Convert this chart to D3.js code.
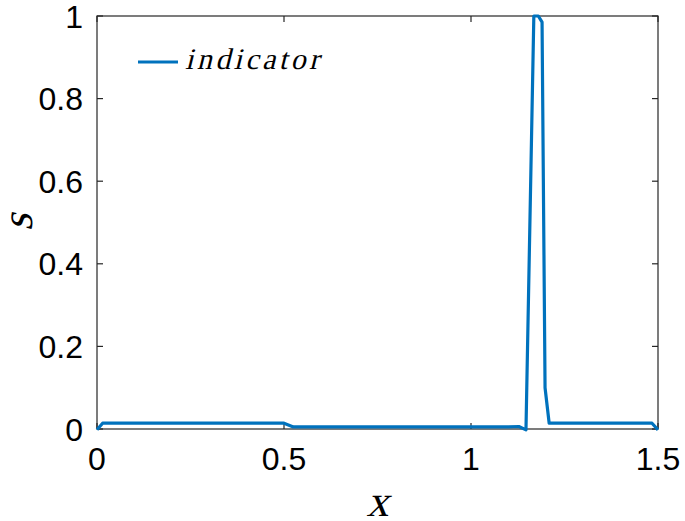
<!DOCTYPE html>
<html>
<head>
<meta charset="utf-8">
<script src="https://cdn.jsdelivr.net/npm/d3@7"></script>
<style>
  body { margin: 0; background: #fff; }
  svg { display: block; }
</style>
</head>
<body>
<svg id="chart" width="685" height="521" viewBox="0 0 685 521"></svg>
<script>
// indicator curve
const xValues = [0, 0.015, 0.5, 0.525, 1.1, 1.128, 1.147, 1.168, 1.18, 1.19, 1.198, 1.209, 1.484, 1.5];
const sValues = [-0.002, 0.014, 0.014, 0.005, 0.005, 0.006, -0.002, 1.0, 1.0, 0.985, 0.1, 0.014, 0.014, -0.002];
const xTicks = [0, 0.5, 1, 1.5];
const yTicks = [0, 0.2, 0.4, 0.6, 0.8, 1];
const seriesName = "indicator";

const svg = d3.select("#chart");
const plotLeft = 97, plotRight = 658, plotTop = 16, plotBottom = 429;
const axisColor = "#262626";
const lineColor = "#0072BD";

const x = d3.scaleLinear().domain([0, 1.5]).range([plotLeft, plotRight]);
const y = d3.scaleLinear().domain([0, 1]).range([plotBottom, plotTop]);

const data = xValues.map((v, i) => ({ x: v, s: sValues[i] }));

// box
svg.append("rect")
  .attr("x", plotLeft).attr("y", plotTop)
  .attr("width", plotRight - plotLeft).attr("height", plotBottom - plotTop)
  .attr("fill", "none").attr("stroke", axisColor).attr("stroke-width", 1.2);

// inward ticks on all four sides
const tickLen = 6;
const tickG = svg.append("g").attr("stroke", axisColor).attr("stroke-width", 1.2);
xTicks.forEach((t) => {
  tickG.append("line").attr("x1", x(t)).attr("x2", x(t)).attr("y1", plotBottom).attr("y2", plotBottom - tickLen);
  tickG.append("line").attr("x1", x(t)).attr("x2", x(t)).attr("y1", plotTop).attr("y2", plotTop + tickLen);
});
yTicks.forEach((t) => {
  tickG.append("line").attr("x1", plotLeft).attr("x2", plotLeft + tickLen).attr("y1", y(t)).attr("y2", y(t));
  tickG.append("line").attr("x1", plotRight).attr("x2", plotRight - tickLen).attr("y1", y(t)).attr("y2", y(t));
});

// tick labels
const labelFont = "'Liberation Sans', Arial, sans-serif";
svg.append("g").selectAll("text")
  .data(xTicks).enter().append("text")
  .attr("x", (d) => x(d)).attr("y", plotBottom + 41)
  .attr("text-anchor", "middle")
  .attr("font-family", labelFont).attr("font-size", 32)
  .attr("fill", "#000")
  .text((d) => d3.format("~g")(d));

svg.append("g").selectAll("text")
  .data(yTicks).enter().append("text")
  .attr("x", plotLeft - 14).attr("y", (d) => y(d) + 11.5)
  .attr("text-anchor", "end")
  .attr("font-family", labelFont).attr("font-size", 32)
  .attr("fill", "#000")
  .text((d) => d3.format("~g")(d));

// curve
const line = d3.line().x((d) => x(d.x)).y((d) => y(d.s));
svg.append("path")
  .datum(data)
  .attr("d", line)
  .attr("fill", "none")
  .attr("stroke", lineColor)
  .attr("stroke-width", 3.2)
  .attr("stroke-linejoin", "round");

// axis labels (math italic, slanted serif)
const mathFont = "'Liberation Serif', 'DejaVu Serif', serif";
svg.append("text")
  .attr("transform", `translate(${(plotLeft + plotRight) / 2},516) skewX(-14)`)
  .attr("text-anchor", "middle")
  .attr("font-family", mathFont).attr("font-size", 44)
  .text("x");

svg.append("text")
  .attr("transform", `translate(32,${(plotTop + plotBottom) / 2}) rotate(-90) skewX(-14)`)
  .attr("text-anchor", "middle")
  .attr("font-family", mathFont).attr("font-size", 44)
  .text("s");

// legend
svg.append("line")
  .attr("x1", 138).attr("x2", 178).attr("y1", 62).attr("y2", 62)
  .attr("stroke", lineColor).attr("stroke-width", 3.2);
svg.append("text")
  .attr("transform", "translate(185,69) skewX(-14)")
  .attr("font-family", mathFont).attr("font-size", 30)
  .attr("textLength", 134).attr("lengthAdjust", "spacing")
  .text(seriesName);
</script>
</body>
</html>
